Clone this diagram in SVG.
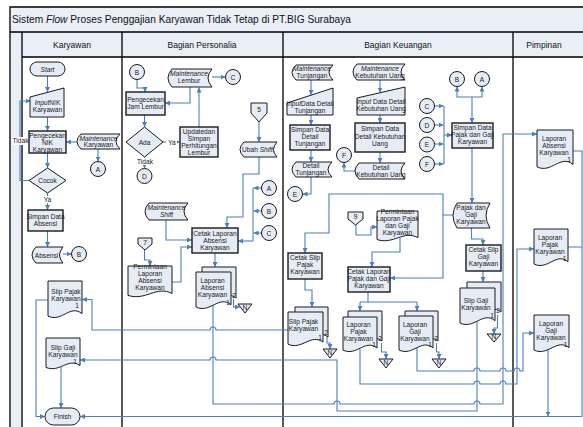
<svg xmlns="http://www.w3.org/2000/svg" width="583" height="427" viewBox="0 0 583 427">
<defs>
<style>
.lane{fill:none;stroke:#000;stroke-width:1.3}
.hdr{fill:#e9eef7}
.nd{fill:#e6ecf6;stroke:#1a1a1a;stroke-width:1}
.pr{fill:#e6ecf6;stroke:#1a1a1a;stroke-width:1.4}
.t{font-family:"Liberation Sans",Arial,sans-serif;font-size:6.6px;fill:#1a1a1a;text-anchor:middle}
.ts{font-family:"Liberation Sans",Arial,sans-serif;font-size:6.6px;fill:#1a1a1a;text-anchor:end}
.h{font-family:"Liberation Sans",Arial,sans-serif;font-size:8.5px;fill:#111;text-anchor:middle}
.i{font-style:italic}
.c{fill:none;stroke:#4a7ec4;stroke-width:1.1}
.lbl{fill:#fff}
</style>
<marker id="ar" viewBox="0 0 6 6" refX="6" refY="3" markerWidth="5" markerHeight="5" orient="auto" markerUnits="userSpaceOnUse">
<path d="M0,0 L6,3 L0,6 z" fill="#4a7ec4"/>
</marker>
</defs>

<rect x="0" y="0" width="583" height="427" fill="#fff"/>

<!-- swimlane frame -->
<g id="frame">
<rect class="hdr" x="10" y="7" width="580" height="25"/>
<rect class="hdr" x="10" y="32" width="580" height="25"/>
<rect class="hdr" x="10" y="57" width="12" height="380"/>
<path class="lane" d="M10,440 V7 H590 M10,32 H590 M22,57 H590 M22,32 V440 M122,32 V440 M283,32 V440 M513,32 V440"/>
<text x="12" y="23" font-family="Liberation Sans, Arial, sans-serif" font-size="10.2" fill="#111">Sistem <tspan font-style="italic">Flow</tspan> Proses Penggajian Karyawan Tidak Tetap di PT.BIG Surabaya</text>
<text class="h" x="72" y="48">Karyawan</text>
<text class="h" x="202" y="48">Bagian Personalia</text>
<text class="h" x="398" y="48">Bagian Keuangan</text>
<text class="h" x="544" y="48">Pimpinan</text>
</g>

<!-- connectors -->
<g id="connectors">
<!-- Karyawan -->
<path class="c" marker-end="url(#ar)" d="M47.5,76 V92"/>
<path class="c" marker-end="url(#ar)" d="M47.5,117 V131"/>
<path class="c" marker-end="url(#ar)" d="M77,142 H66"/>
<path class="c" marker-end="url(#ar)" d="M98,149 V161.5"/>
<path class="c" marker-end="url(#ar)" d="M47.5,153 V168"/>
<path class="c" marker-end="url(#ar)" d="M47.5,193 V210"/>
<path class="c" marker-end="url(#ar)" d="M29,180.5 H20 V101 H30.5"/>
<path class="c" marker-end="url(#ar)" d="M47.5,231 V247"/>
<path class="c" marker-end="url(#ar)" d="M63,254 H71.5"/>
<path class="c" marker-end="url(#ar)" d="M48,300 H36 V416.5 H45"/>
<path class="c" marker-end="url(#ar)" d="M61,367 V408"/>

<!-- Personalia -->
<path class="c" marker-end="url(#ar)" d="M137,79.5 V88 H145 V92"/>
<path class="c" marker-end="url(#ar)" d="M212,77 H225.5"/>
<path class="c" marker-end="url(#ar)" d="M190,87 V103 H165"/>
<path class="c" marker-end="url(#ar)" d="M144.5,115 V127"/>
<path class="c" marker-end="url(#ar)" d="M163,142 H180"/>
<path class="c" marker-end="url(#ar)" d="M199,127 V87.5"/>
<path class="c" marker-end="url(#ar)" d="M144.5,157 V168.5"/>
<path class="c" marker-end="url(#ar)" d="M259,122 V142"/>
<path class="c" marker-end="url(#ar)" d="M259,157 V174 H243 V217 H227 V228"/>
<path class="c" d="M253,188 V241"/>
<path class="c" marker-end="url(#ar)" d="M253,241 H238"/>
<path class="c" marker-end="url(#ar)" d="M261.5,188 H253.5"/>
<path class="c" marker-end="url(#ar)" d="M261.5,211 H253.5"/>
<path class="c" marker-end="url(#ar)" d="M261.5,233 H253.5"/>
<path class="c" marker-end="url(#ar)" d="M166,220 V240 H192"/>
<path class="c" marker-end="url(#ar)" d="M144.5,250 V260 H150 V266"/>
<path class="c" marker-end="url(#ar)" d="M172,282 H181 V247 H192"/>
<path class="c" marker-end="url(#ar)" d="M215,253 V267"/>
<path class="c" marker-end="url(#ar)" d="M233.5,299 V307 H240"/>

<!-- Keuangan -->
<path class="c" marker-end="url(#ar)" d="M311,80 V95"/>
<path class="c" marker-end="url(#ar)" d="M311,115 V125"/>
<path class="c" marker-end="url(#ar)" d="M311,150 V162"/>
<path class="c" marker-end="url(#ar)" d="M311,177 V194 H302.5"/>
<path class="c" marker-end="url(#ar)" d="M380,80 V92.5"/>
<path class="c" marker-end="url(#ar)" d="M380,115 V123"/>
<path class="c" marker-end="url(#ar)" d="M380,152 V163"/>
<path class="c" marker-end="url(#ar)" d="M355,171 H344 V162.5"/>
<path class="c" d="M444,106 V164"/>
<path class="c" marker-end="url(#ar)" d="M444,135 H452"/>
<path class="c" marker-end="url(#ar)" d="M434.5,106 H443.5"/>
<path class="c" marker-end="url(#ar)" d="M434.5,125 H443.5"/>
<path class="c" marker-end="url(#ar)" d="M434.5,144 H443.5"/>
<path class="c" marker-end="url(#ar)" d="M434.5,164 H443.5"/>
<path class="c" marker-end="url(#ar)" d="M472,97 H457 V86.5"/>
<path class="c" marker-end="url(#ar)" d="M472,97 H482 V86.5"/>
<path class="c" marker-end="url(#ar)" d="M472,97 V123"/>
<path class="c" marker-end="url(#ar)" d="M472,148 V203"/>
<path class="c" marker-end="url(#ar)" d="M453,215 H443 V194 H329 V233 H305 V253"/>
<path class="c" marker-end="url(#ar)" d="M443,215 V278 H390"/>
<path class="c" marker-end="url(#ar)" d="M471.5,228 V239 H483 V245"/>
<path class="c" marker-end="url(#ar)" d="M483,271 V282"/>
<path class="c" marker-end="url(#ar)" d="M497.5,315 V328 H494 V334"/>
<path class="c" marker-end="url(#ar)" d="M356,225 V235 H371 V227 H377"/>
<path class="c" marker-end="url(#ar)" d="M400,237.5 V252 H372 V267"/>
<path class="c" marker-end="url(#ar)" d="M305,279 V290 H312 V307"/>
<path class="c" marker-end="url(#ar)" d="M327,337 V343 H330 V349"/>
<path class="c" d="M368,292 V302 M360,302 H417"/>
<path class="c" marker-end="url(#ar)" d="M360,302 V311"/>
<path class="c" marker-end="url(#ar)" d="M417,302 V311"/>
<path class="c" marker-end="url(#ar)" d="M381.5,343 V352 H386 V359"/>
<path class="c" marker-end="url(#ar)" d="M436.5,343 V352 H439 V359"/>

<!-- across lanes -->
<path class="c" marker-end="url(#ar)" d="M288,330 H216 A3,3 0 0 0 210,330 H92 V299.5 H82"/>
<path class="c" marker-end="url(#ar)" d="M477,321.5 V411 H337 V360 H216 A3,3 0 0 0 210,360 H80"/>
<path class="c" marker-end="url(#ar)" d="M213,305.5 V404 H334 A3,3 0 0 1 340,404 H474 A3,3 0 0 1 480,404 H503 V134 H537"/>
<path class="c" marker-end="url(#ar)" d="M360,349 V384 H474 A3,3 0 0 1 480,384 H500 A3,3 0 0 1 506,384 H517 V249 H534"/>
<path class="c" marker-end="url(#ar)" d="M417,348 V371 H474 A3,3 0 0 1 480,371 H500 A3,3 0 0 1 506,371 H514 A3,3 0 0 1 520,371 H523 V333 H534"/>
<path class="c" d="M573,151 H582 V416.5 M568,247 H582"/>
<path class="c" marker-end="url(#ar)" d="M548,349 V416.5"/>
<path class="c" marker-end="url(#ar)" d="M582,416.5 H80"/>

<!-- flow labels -->
<rect class="lbl" x="41" y="196" width="13" height="7"/>
<text class="t" x="47.5" y="202">Ya</text>
<rect class="lbl" x="12" y="137" width="17" height="8"/>
<text class="t" x="20.5" y="143">Tidak</text>
<rect class="lbl" x="166" y="138" width="11" height="8"/>
<text class="t" x="172" y="144.5">Ya</text>
<rect class="lbl" x="136" y="158" width="18" height="7"/>
<text class="t" x="145" y="164">Tidak</text>
</g>

<!-- Karyawan lane -->
<g id="start">
<rect class="nd" x="30" y="62" width="35" height="14" rx="7"/>
<text class="t i" x="47.5" y="71.5">Start</text>
</g>
<g id="input-nik">
<path class="nd" d="M30,97 L64,88 V117 H30 Z"/>
<text class="t" x="47.5" y="105"><tspan class="i">Input</tspan>NIK<tspan x="47.5" dy="7.4">Karyawan</tspan></text>
</g>
<g id="cek-nik">
<rect class="pr" x="29" y="131" width="37" height="22"/>
<text class="t" x="47.5" y="137.5">Pengecekan<tspan x="47.5" dy="7">NIK</tspan><tspan x="47.5" dy="7">Karyawan</tspan></text>
</g>
<g id="maint-karyawan">
<path class="nd" d="M81,134 H120 Q112,141.5 120,149 H81 Q73,141.5 81,134 Z"/>
<text class="t" x="98.5" y="140.5"><tspan class="i">Maintenance</tspan><tspan x="98.5" dy="6.8">Karyawan</tspan></text>
</g>
<g id="con-a1">
<circle class="nd" cx="98" cy="169" r="7.5"/>
<text class="t" x="98" y="171.5" font-size="7.5">A</text>
</g>
<g id="cocok">
<path class="nd" d="M47.5,168 L66,180.5 L47.5,193 L29,180.5 Z"/>
<text class="t" x="47.5" y="183">Cocok</text>
</g>
<g id="simpan-absensi">
<rect class="pr" x="28" y="210" width="35" height="21"/>
<text class="t" x="45.5" y="218.5">Simpan Data<tspan x="45.5" dy="7">Absensi</tspan></text>
</g>
<g id="absensi">
<path class="nd" d="M36,247 H63 Q56,255 63,263 H36 Q28,255 36,247 Z"/>
<text class="t" x="46.5" y="257.5">Absensi</text>
</g>
<g id="con-b1">
<circle class="nd" cx="79" cy="254" r="7.5"/>
<text class="t" x="79" y="256.5" font-size="7.5">B</text>
</g>
<g id="slip-pajak-k">
<path class="nd" d="M48,281 H82 V313.7 C70.1,303.8 61.6,322.8 48,316 Z"/>
<text class="t" x="66" y="294">Slip Pajak<tspan x="66" dy="7">Karyawan</tspan></text>
<text class="ts" x="79" y="307.5">1</text>
</g>
<g id="slip-gaji-k">
<path class="nd" d="M46,338 H80 V365.5 C68.1,357.2 59.6,373.2 46,367.4 Z"/>
<text class="t" x="63" y="350">Slip Gaji<tspan x="63" dy="7">Karyawan</tspan></text>
<text class="ts" x="77" y="363.5">1</text>
</g>
<g id="finish">
<rect class="nd" x="45" y="408" width="35" height="17" rx="8.5"/>
<text class="t" x="62.5" y="419">Finish</text>
</g>

<!-- Bagian Personalia lane -->
<g id="con-b2">
<circle class="nd" cx="137" cy="72" r="7.5"/>
<text class="t" x="137" y="74.5" font-size="7.5">B</text>
</g>
<g id="maint-lembur">
<path class="nd" d="M172,69 H212 Q204,78 212,87 H172 Q164,78 172,69 Z"/>
<text class="t" x="189" y="76"><tspan class="i">Maintenance</tspan><tspan x="189" dy="7">Lembur</tspan></text>
</g>
<g id="con-c1">
<circle class="nd" cx="233" cy="77" r="7.5"/>
<text class="t" x="233" y="79.5" font-size="7.5">C</text>
</g>
<g id="cek-lembur">
<rect class="pr" x="126" y="92" width="39" height="23"/>
<text class="t" x="145.5" y="102">Pengecekan<tspan x="145.5" dy="7">Jam Lembur</tspan></text>
</g>
<g id="ada">
<path class="nd" d="M144.5,127 L163,142 L144.5,157 L126,142 Z"/>
<text class="t" x="144.5" y="144.5">Ada</text>
</g>
<g id="update-lembur">
<rect class="pr" x="180" y="127" width="38" height="30"/>
<text class="t" x="199" y="133.5">Updatedan<tspan x="199" dy="7">Simpan</tspan><tspan x="199" dy="7">Perhitungan</tspan><tspan x="199" dy="7">Lembur</tspan></text>
</g>
<g id="con-d1">
<circle class="nd" cx="144.5" cy="176" r="7.5"/>
<text class="t" x="144.5" y="178.5" font-size="7.5">D</text>
</g>
<g id="ref-5">
<path class="nd" d="M251,103 H267 V113 L259,122 L251,113 Z"/>
<text class="t" x="259" y="112">5</text>
</g>
<g id="ubah-shift">
<path class="nd" d="M244,142 H277 Q270,149.5 277,157 H244 Q236,149.5 244,142 Z"/>
<text class="t" x="257.5" y="152">Ubah <tspan class="i">Shift</tspan></text>
</g>
<g id="con-a2">
<circle class="nd" cx="269" cy="188" r="7.5"/>
<text class="t" x="269" y="190.5" font-size="7.5">A</text>
</g>
<g id="con-b3">
<circle class="nd" cx="269" cy="211" r="7.5"/>
<text class="t" x="269" y="213.5" font-size="7.5">B</text>
</g>
<g id="con-c2">
<circle class="nd" cx="269" cy="233" r="7.5"/>
<text class="t" x="269" y="235.5" font-size="7.5">C</text>
</g>
<g id="maint-shift">
<path class="nd" d="M149,203 H188 Q180,211.5 188,220 H149 Q141,211.5 149,203 Z"/>
<text class="t i" x="166.5" y="210">Maintenance<tspan x="166.5" dy="7">Shift</tspan></text>
</g>
<g id="cetak-absensi">
<rect class="pr" x="192" y="228" width="46" height="25"/>
<text class="t" x="215" y="235.5">Cetak Laporan<tspan x="215" dy="7">Absensi</tspan><tspan x="215" dy="7">Karyawan</tspan></text>
</g>
<g id="ref-7">
<path class="nd" d="M138,238 H152 V244 L145,250 L138,244 Z"/>
<text class="t" x="145" y="245">7</text>
</g>
<g id="minta-absensi">
<path class="nd" d="M128,266 H172 V293.5 C156.6,285.2 145.6,301.2 128,295.4 Z"/>
<text class="t" x="150" y="268.5">Permintaan<tspan x="150" dy="7">Laporan</tspan><tspan x="150" dy="7">Absensi</tspan><tspan x="150" dy="7">Karyawan</tspan></text>
</g>
<g id="lap-absensi">
<path class="nd" d="M202,267 H236 V298 C224.1,288.6 215.6,306.6 202,300.1 Z"/>
<path class="nd" d="M196,272 H231 V304.7 C218.75,294.8 210,313.8 196,307 Z"/>
<text class="t" x="212.5" y="283">Laporan<tspan x="212.5" dy="7">Absensi</tspan><tspan x="212.5" dy="7">Karyawan</tspan></text>
<text class="t" x="234" y="297.5">2</text>
<text class="t" x="228" y="304.5">1</text>
</g>
<g id="arsip-1">
<path class="nd" d="M238,304 H252 L245,313 Z"/>
<text class="t" x="245" y="309.5" font-size="5.5">N</text>
</g>

<!-- Bagian Keuangan lane -->
<g id="maint-tunjangan">
<path class="nd" d="M296,65 H333 Q325,72.5 333,80 H296 Q288,72.5 296,65 Z"/>
<text class="t" x="312" y="71"><tspan class="i">Maintenance</tspan><tspan x="312" dy="7">Tunjangan</tspan></text>
</g>
<g id="input-tunjangan">
<path class="nd" d="M287,103 L333,88 V115 H287 Z"/>
<text class="t" x="310" y="106"><tspan class="i">Input</tspan>Data Detail<tspan x="310" dy="7">Tunjangan</tspan></text>
</g>
<g id="simpan-tunjangan">
<rect class="pr" x="290" y="125" width="40" height="25"/>
<text class="t" x="310" y="131.5">Simpan Data<tspan x="310" dy="7">Detail</tspan><tspan x="310" dy="7">Tunjangan</tspan></text>
</g>
<g id="detail-tunjangan">
<path class="nd" d="M296,162 H332 Q324,169.5 332,177 H296 Q288,169.5 296,162 Z"/>
<text class="t" x="311" y="168">Detail<tspan x="311" dy="7">Tunjangan</tspan></text>
</g>
<g id="con-e1">
<circle class="nd" cx="295" cy="194" r="7.5"/>
<text class="t" x="295" y="196.5" font-size="7.5">E</text>
</g>
<g id="maint-kebutuhan">
<path class="nd" d="M357,64 H405 Q397,72 405,80 H357 Q349,72 357,64 Z"/>
<text class="t" x="380" y="70.5"><tspan class="i">Maintenance</tspan><tspan x="380" dy="7">Kebutuhan Uang</tspan></text>
</g>
<g id="input-kebutuhan">
<path class="nd" d="M357,98 L405,87 V115 H357 Z"/>
<text class="t" x="381" y="104"><tspan class="i">Input</tspan> Data Detail<tspan x="381" dy="7">Kebutuhan Uang</tspan></text>
</g>
<g id="simpan-kebutuhan">
<rect class="pr" x="355" y="123" width="50" height="29"/>
<text class="t" x="380" y="131">Simpan Data<tspan x="380" dy="7.5">Detail Kebutuhan</tspan><tspan x="380" dy="7.5">Uang</tspan></text>
</g>
<g id="detail-kebutuhan">
<path class="nd" d="M359,163 H405 Q397,171 405,179 H359 Q351,171 359,163 Z"/>
<text class="t" x="381" y="169.5">Detail<tspan x="381" dy="7">Kebutuhan Uang</tspan></text>
</g>
<g id="con-f1">
<circle class="nd" cx="344" cy="155" r="7.5"/>
<text class="t" x="344" y="157.5" font-size="7.5">F</text>
</g>
<g id="con-c3">
<circle class="nd" cx="427" cy="106" r="7.5"/>
<text class="t" x="427" y="108.5" font-size="7.5">C</text>
</g>
<g id="con-d2">
<circle class="nd" cx="427" cy="125" r="7.5"/>
<text class="t" x="427" y="127.5" font-size="7.5">D</text>
</g>
<g id="con-e2">
<circle class="nd" cx="427" cy="144.5" r="7.5"/>
<text class="t" x="427" y="147" font-size="7.5">E</text>
</g>
<g id="con-f2">
<circle class="nd" cx="427" cy="164" r="7.5"/>
<text class="t" x="427" y="166.5" font-size="7.5">F</text>
</g>
<g id="con-b4">
<circle class="nd" cx="457" cy="79" r="7.5"/>
<text class="t" x="457" y="81.5" font-size="7.5">B</text>
</g>
<g id="con-a3">
<circle class="nd" cx="482" cy="79" r="7.5"/>
<text class="t" x="482" y="81.5" font-size="7.5">A</text>
</g>
<g id="simpan-pajak-gaji">
<rect class="pr" x="452" y="123" width="41" height="25"/>
<text class="t" x="472.5" y="129.5">Simpan Data<tspan x="472.5" dy="7">Pajak dan Gaji</tspan><tspan x="472.5" dy="7">Karyawan</tspan></text>
</g>
<g id="pajak-gaji">
<path class="nd" d="M457,203 H490 Q482,215.5 490,228 H457 Q449,215.5 457,203 Z"/>
<text class="t" x="471" y="210">Pajak dan<tspan x="471" dy="7">Gaji</tspan><tspan x="471" dy="7">Karyawan</tspan></text>
</g>
<g id="ref-9">
<path class="nd" d="M348,212 H363 V219 L355.5,225 L348,219 Z"/>
<text class="t" x="355.5" y="219">9</text>
</g>
<g id="minta-pajak-gaji">
<path class="nd" d="M377,211 H418 V237.7 C403.7,229.6 393.4,245.1 377,239.5 Z"/>
<text class="t" x="397.5" y="213.5">Permintaan<tspan x="397.5" dy="7">Laporan Pajak</tspan><tspan x="397.5" dy="7">dan Gaji</tspan><tspan x="397.5" dy="7">Karyawan</tspan></text>
</g>
<g id="cetak-slip-pajak">
<rect class="pr" x="288" y="253" width="34" height="26"/>
<text class="t" x="305" y="260">Cetak Slip<tspan x="305" dy="7">Pajak</tspan><tspan x="305" dy="7">Karyawan</tspan></text>
</g>
<g id="cetak-lap-pajak-gaji">
<rect class="pr" x="348" y="267" width="42" height="25"/>
<text class="t" x="369" y="273.5">Cetak Laporan<tspan x="369" dy="7">Pajak dan Gaji</tspan><tspan x="369" dy="7">Karyawan</tspan></text>
</g>
<g id="cetak-slip-gaji">
<rect class="pr" x="466" y="245" width="35" height="26"/>
<text class="t" x="483.5" y="252">Cetak Slip<tspan x="483.5" dy="7">Gaji</tspan><tspan x="483.5" dy="7">Karyawan</tspan></text>
</g>
<g id="slip-pajak-keu">
<path class="nd" d="M295,307 H328 V337 C316.4,328 308.2,345.5 295,339 Z"/>
<path class="nd" d="M288,312 H323 V342.1 C310.75,333 302,350.5 288,344.2 Z"/>
<text class="t" x="303.5" y="324">Slip Pajak<tspan x="303.5" dy="7">Karyawan</tspan></text>
<text class="t" x="326" y="335">2</text>
<text class="t" x="320" y="340">1</text>
</g>
<g id="arsip-2">
<path class="nd" d="M323,349 H337 L330,358 Z"/>
<text class="t" x="330" y="354.5" font-size="5.5">N</text>
</g>
<g id="lap-pajak-keu">
<path class="nd" d="M348,311 H382 V341 C370.1,331.6 361.6,349.6 348,343.1 Z"/>
<path class="nd" d="M343,317 H377 V348 C365.1,338.6 356.6,356.6 343,350.1 Z"/>
<text class="t" x="358.5" y="327">Laporan<tspan x="358.5" dy="7">Pajak</tspan><tspan x="358.5" dy="7">Karyawan</tspan></text>
<text class="t" x="380" y="341">2</text>
<text class="t" x="374" y="347">1</text>
</g>
<g id="arsip-3">
<path class="nd" d="M379,359 H393 L386,368 Z"/>
<text class="t" x="386" y="364.5" font-size="5.5">N</text>
</g>
<g id="lap-gaji-keu">
<path class="nd" d="M405,311 H438 V341 C426.5,331.6 418.2,349.6 405,343.1 Z"/>
<path class="nd" d="M399,316 H433 V347.8 C421.1,338.2 412.6,356.7 399,350 Z"/>
<text class="t" x="415" y="327">Laporan<tspan x="415" dy="7">Gaji</tspan><tspan x="415" dy="7">Karyawan</tspan></text>
<text class="t" x="436" y="341">2</text>
<text class="t" x="430" y="347">1</text>
</g>
<g id="arsip-4">
<path class="nd" d="M432,359 H446 L439,368 Z"/>
<text class="t" x="439" y="364.5" font-size="5.5">N</text>
</g>
<g id="slip-gaji-keu">
<path class="nd" d="M467,282 H501 V312 C489.1,302.6 480.6,320.6 467,314.1 Z"/>
<path class="nd" d="M460,288 H495 V320.7 C482.75,310.8 474,329.8 460,323 Z"/>
<text class="t" x="476" y="303">Slip Gaji<tspan x="476" dy="7">Karyawan</tspan></text>
<text class="t" x="498" y="313">2</text>
<text class="t" x="492" y="318">1</text>
</g>
<g id="arsip-5">
<path class="nd" d="M487,334 H501 L494,342 Z"/>
<text class="t" x="494" y="339" font-size="5.5">N</text>
</g>

<!-- Pimpinan lane -->
<g id="lap-absensi-pim">
<path class="nd" d="M537,130 H573 V164.4 C560.4,154 551.4,174 537,166.8 Z"/>
<text class="t" x="554" y="141">Laporan<tspan x="554" dy="7">Absensi</tspan><tspan x="554" dy="7">Karyawan</tspan></text>
<text class="ts" x="571" y="161.5">1</text>
</g>
<g id="lap-pajak-pim">
<path class="nd" d="M534,229 H568 V261.7 C556.1,251.8 547.6,270.8 534,264 Z"/>
<text class="t" x="550" y="240">Laporan<tspan x="550" dy="7">Pajak</tspan><tspan x="550" dy="7">Karyawan</tspan></text>
<text class="ts" x="566.5" y="260.5">1</text>
</g>
<g id="lap-gaji-pim">
<path class="nd" d="M534,315 H569 V347.7 C556.75,337.8 548,356.8 534,350 Z"/>
<text class="t" x="551" y="326">Laporan<tspan x="551" dy="7">Gaji</tspan><tspan x="551" dy="7">Karyawan</tspan></text>
<text class="ts" x="567.5" y="346.5">1</text>
</g>
</svg>
